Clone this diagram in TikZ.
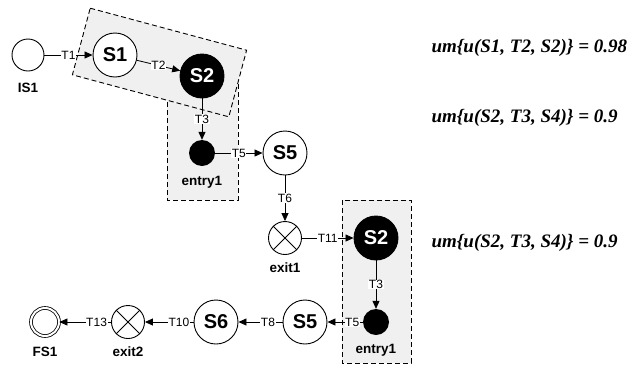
\documentclass[tikz,border=0pt]{standalone}
\usepackage{fontspec}
\setmainfont{Liberation Sans}
\newfontfamily\tnr{Liberation Serif}
\usetikzlibrary{arrows.meta}
\begin{document}
\begin{tikzpicture}[x=1pt,y=-1pt,
  st/.style={circle,draw,line width=0.9pt,fill=white,minimum size=44pt,inner sep=0pt,font=\bfseries\fontsize{20}{20}\selectfont},
  stb/.style={st,fill=black,text=white},
  ent/.style={circle,fill=black,minimum size=26pt,inner sep=0pt},
  ex/.style={circle,draw,line width=0.9pt,fill=white,minimum size=33pt,inner sep=0pt},
  ini/.style={circle,draw,line width=0.9pt,fill=white,minimum size=32pt,inner sep=0pt},
  lab/.style={font=\bfseries\fontsize{13.5}{13.5}\selectfont},
  tr/.style={-{Triangle[length=8pt,width=7pt]},line width=0.8pt},
  tl/.style={fill=white,inner sep=0.6pt,font=\fontsize{12}{12}\selectfont},
  grp/.style={draw,dash pattern=on 5pt off 3pt,line width=0.9pt,fill=black!6},
  eq/.style={anchor=west,font=\tnr\bfseries\itshape\fontsize{19}{19}\selectfont}]
\useasboundingbox (0,0) rectangle (633,365);
% groups
\draw[grp] (167,70) rectangle (238,200);
\draw[grp] (90.2,8.2) -- (246.6,50.2) -- (228.8,116.8) -- (72.4,74.8) -- cycle;
\draw[grp] (342,200) rectangle (411,363);
% states
\node[ini] (IS1) at (28,55) {};
\node[lab] (IS1l) at (28,88) {IS1};
\node[st] (S1) at (115,55) {S1};
\node[stb] (S2) at (202,76) {S2};
\node[ent] (en1) at (202,153) {};
\node[lab] (en1l) at (202,182) {entry1};
\node[st] (S5a) at (285,153) {S5};
\node[ex] (ex1) at (285,238) {};
\node[lab] (ex1l) at (285,268) {exit1};
\node[stb] (S2b) at (376,238) {S2};
\node[ent] (en2) at (376,322) {};
\node[lab] (en2l) at (376,350) {entry1};
\node[st] (S5b) at (305,322) {S5};
\node[st] (S6) at (216,322) {S6};
\node[ex] (ex2) at (128,322) {};
\node[lab] (ex2l) at (128,352) {exit2};
\node[circle,draw,line width=0.8pt,double,double distance=2pt,fill=white,minimum size=28pt,inner sep=0pt] (FS1) at (45,322) {};
\node[lab] (FS1l) at (45,352) {FS1};
\foreach \n in {ex1,ex2}{
  \draw[line width=0.8pt] (\n.north west) -- (\n.south east) (\n.north east) -- (\n.south west);
}
% transitions
\draw[tr] (IS1) -- node[tl]{T1} (S1);
\draw[tr] (S1) -- node[tl]{T2} (S2);
\draw[tr] (S2) -- node[tl]{T3} (en1);
\draw[tr] (en1) -- node[tl]{T5} (S5a);
\draw[tr] (S5a) -- node[tl]{T6} (ex1);
\draw[tr] (ex1) -- node[tl]{T11} (S2b);
\draw[tr] (S2b) -- node[tl]{T3} (en2);
\draw[tr] (en2) -- node[tl,pos=0.3]{T5} (S5b);
\draw[tr] (S5b) -- node[tl,pos=0.33]{T8} (S6);
\draw[tr] (S6) -- node[tl,pos=0.3]{T10} (ex2);
\draw[tr] (ex2) -- node[tl,pos=0.28]{T13} (FS1);
% equations
\node[eq] (eq1) at (428,48) {um\{u(S1, T2, S2)\} = 0.98};
\node[eq] (eq2) at (428,118) {um\{u(S2, T3, S4)\} = 0.9};
\node[eq] (eq3) at (428,243) {um\{u(S2, T3, S4)\} = 0.9};
\end{tikzpicture}
\end{document}
